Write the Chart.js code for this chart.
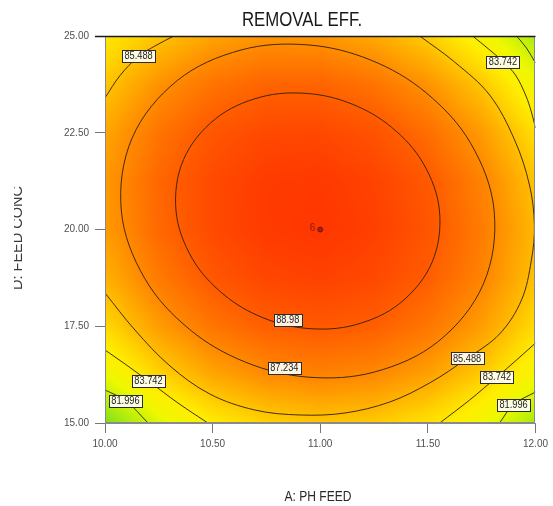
<!DOCTYPE html>
<html>
<head>
<meta charset="utf-8">
<title>REMOVAL EFF.</title>
<script src="https://cdn.jsdelivr.net/npm/chart.js@4.4.1/dist/chart.umd.min.js"></script>
<style>
  html, body { margin: 0; padding: 0; background: #ffffff; }
  canvas { display: block; }
</style>
</head>
<body>
<canvas id="chart" width="553" height="506"></canvas>
<script>
// ---- Response surface: removal efficiency over pH feed (A) and feed conc (D) ----
const phFeed   = [10.00, 10.25, 10.50, 10.75, 11.00, 11.25, 11.50, 11.75, 12.00];
const feedConc = [15.00, 16.25, 17.50, 18.75, 20.00, 21.25, 22.50, 23.75, 25.00];
// rows follow feedConc (bottom to top), columns follow phFeed (left to right)
const removalEff = [
  [80.06, 82.21, 83.77, 84.75, 85.16, 84.97, 84.21, 82.86, 80.93],
  [82.56, 84.65, 86.16, 87.08, 87.43, 87.19, 86.37, 84.96, 82.97],
  [84.47, 86.50, 87.95, 88.82, 89.11, 88.81, 87.93, 86.47, 84.42],
  [85.78, 87.76, 89.15, 89.96, 90.19, 89.84, 88.90, 87.38, 85.28],
  [86.50, 88.42, 89.76, 90.51, 90.68, 90.27, 89.27, 87.70, 85.54],
  [86.63, 88.49, 89.77, 90.47, 90.58, 90.11, 89.06, 87.42, 85.21],
  [86.16, 87.97, 89.19, 89.83, 89.88, 89.36, 88.25, 86.56, 84.28],
  [85.10, 86.85, 88.02, 88.60, 88.60, 88.01, 86.85, 85.10, 82.76],
  [83.90, 85.14, 86.25, 86.77, 86.71, 86.07, 84.85, 83.04, 81.00]
];

const contourLevels = [81.996, 83.742, 85.488, 87.234, 88.98];
const xTicks = [10.00, 10.50, 11.00, 11.50, 12.00];
const yTicks = [15.00, 17.50, 20.00, 22.50, 25.00];

// contour paths as [pH feed, feed conc] pairs; the two inner ones are closed rings
const path_88_98 = [
  [11.554, 20.478], [11.519, 19.147], [11.370, 18.093], [11.161, 17.535],
  [10.942, 17.442], [10.736, 17.716], [10.553, 18.313], [10.406, 19.243],
  [10.330, 20.478], [10.365, 21.809], [10.514, 22.863], [10.723, 23.421],
  [10.942, 23.514], [11.148, 23.240], [11.331, 22.643], [11.478, 21.713]
];
const path_87_234 = [
  [11.808, 20.478], [11.758, 18.594], [11.548, 17.106], [11.252, 16.318],
  [10.942, 16.186], [10.652, 16.574], [10.393, 17.419], [10.185, 18.731],
  [10.076, 20.478], [10.126, 22.362], [10.336, 23.850], [10.632, 24.638],
  [10.942, 24.770], [11.233, 24.382], [11.491, 23.537], [11.699, 22.225]
];
const path_85_488_corner = [
  [10.320, 25.000], [10.232, 24.742], [10.155, 24.470], [10.070, 23.980], [10.000, 23.400]
];
const path_85_488_arc = [
  [11.462, 25.000], [11.624, 24.328], [11.787, 23.475], [11.903, 22.313],
  [11.972, 21.150], [11.995, 20.116], [11.981, 19.212], [11.935, 18.178],
  [11.833, 17.300], [11.682, 16.667], [11.508, 16.034], [11.323, 15.543],
  [11.114, 15.258], [10.905, 15.207], [10.696, 15.336], [10.487, 15.749],
  [10.302, 16.473], [10.139, 17.403], [10.000, 18.359]
];
const path_83_742_top = [
  [11.708, 25.000], [11.782, 24.664], [11.849, 24.341], [11.907, 23.992],
  [11.954, 23.475], [11.981, 23.036], [12.000, 22.623]
];
const path_83_742_right = [
  [12.000, 17.067], [11.912, 16.628], [11.821, 16.189], [11.694, 15.594], [11.555, 15.000]
];
const path_83_742_left = [
  [10.000, 16.886], [10.093, 16.525], [10.202, 16.085], [10.339, 15.517], [10.478, 15.000]
];
const path_81_996_top = [
  [11.912, 25.000], [11.958, 24.690], [12.000, 24.302]
];
const path_81_996_right = [
  [12.000, 15.801], [11.898, 15.478], [11.833, 15.000]
];
const path_81_996_left = [
  [10.000, 15.853], [10.095, 15.581], [10.200, 15.000]
];
const closedPaths = [path_88_98, path_87_234];
const openPaths = [
  path_85_488_corner, path_85_488_arc,
  path_83_742_top, path_83_742_right, path_83_742_left,
  path_81_996_top, path_81_996_right, path_81_996_left
];

// contour value labels
const labelPh    = [10.156, 11.849, 10.849, 10.833, 11.682, 11.821, 11.898, 10.202, 10.095];
const labelConc  = [24.496, 24.341, 17.661, 16.421, 16.667, 16.189, 15.478, 16.085, 15.581];
const labelLevel = [2, 1, 4, 3, 2, 1, 0, 1, 0];

// design point (centre run) and its replicate count
const designPh = [11.00];
const designConc = [20.00];
const designCount = ['6'];

// ---- styling ----
const FONT = "'Liberation Sans', Arial, sans-serif";
const colorStops = [
  [78.0, [90, 205, 40]],
  [80.0, [125, 222, 30]],
  [81.5, [190, 240, 10]],
  [82.6, [238, 248, 0]],
  [83.7, [255, 238, 0]],
  [84.6, [255, 214, 0]],
  [85.5, [255, 186, 0]],
  [87.2, [255, 136, 0]],
  [89.0, [255, 90, 0]],
  [90.7, [255, 54, 0]],
  [92.5, [255, 20, 0]]
];

function colorFor(v) {
  if (v <= colorStops[0][0]) return colorStops[0][1];
  for (let i = 1; i < colorStops.length; i++) {
    const [v1, c1] = colorStops[i];
    if (v <= v1) {
      const [v0, c0] = colorStops[i - 1];
      const t = (v - v0) / (v1 - v0);
      return [0, 1, 2].map(k => c0[k] + (c1[k] - c0[k]) * t);
    }
  }
  return colorStops[colorStops.length - 1][1];
}

function cellIndex(arr, v) {
  let i = 0;
  while (i < arr.length - 2 && v > arr[i + 1]) i++;
  return i;
}

function surfaceAt(a, d) {
  const i = cellIndex(phFeed, a), j = cellIndex(feedConc, d);
  const tx = Math.min(1, Math.max(0, (a - phFeed[i]) / (phFeed[i + 1] - phFeed[i])));
  const ty = Math.min(1, Math.max(0, (d - feedConc[j]) / (feedConc[j + 1] - feedConc[j])));
  const v00 = removalEff[j][i], v10 = removalEff[j][i + 1];
  const v01 = removalEff[j + 1][i], v11 = removalEff[j + 1][i + 1];
  return (v00 * (1 - tx) + v10 * tx) * (1 - ty) + (v01 * (1 - tx) + v11 * tx) * ty;
}

// draws text squeezed horizontally, like a narrow face
function narrowText(ctx, txt, x, y, squeeze) {
  ctx.save();
  ctx.translate(x, y);
  ctx.scale(squeeze, 1);
  ctx.fillText(txt, 0, 0);
  ctx.restore();
}

// shaded response surface behind the contour lines
const surfacePlugin = {
  id: 'surface',
  afterDatasetUpdate(chart, args) {
    // closed contours are drawn as smooth rings
    const ds = chart.data.datasets[args.index];
    if (ds.closedRing) {
      const line = chart.getDatasetMeta(args.index).dataset;
      line._loop = true;
      line._fullLoop = true;
    }
  },
  beforeDatasetsDraw(chart) {
    const { ctx, chartArea, scales } = chart;
    const left = Math.round(chartArea.left), top = Math.round(chartArea.top);
    const w = Math.round(chartArea.right) - left, h = Math.round(chartArea.bottom) - top;
    const img = ctx.createImageData(w, h);
    for (let py = 0; py < h; py++) {
      const d = scales.y.getValueForPixel(top + py + 0.5);
      for (let px = 0; px < w; px++) {
        const a = scales.x.getValueForPixel(left + px + 0.5);
        const c = colorFor(surfaceAt(a, d));
        const o = (py * w + px) * 4;
        img.data[o] = c[0]; img.data[o + 1] = c[1]; img.data[o + 2] = c[2]; img.data[o + 3] = 255;
      }
    }
    ctx.putImageData(img, left, top);
  }
};

// contour value boxes, design point count, frame and titles
const annotatePlugin = {
  id: 'annotate',
  afterDatasetsDraw(chart) {
    const { ctx, scales } = chart;
    ctx.save();
    ctx.font = "10.5px " + FONT;
    ctx.textAlign = 'center';
    ctx.textBaseline = 'middle';
    for (let k = 0; k < labelPh.length; k++) {
      const px = scales.x.getPixelForValue(labelPh[k]);
      const py = scales.y.getPixelForValue(labelConc[k]);
      const txt = String(contourLevels[labelLevel[k]]);
      const tw = ctx.measureText(txt).width * 0.88;
      const bw = Math.round(tw + 5), bh = 12;
      const bx = Math.round(px - bw / 2) + 0.5, by = Math.round(py - bh / 2) + 0.5;
      ctx.fillStyle = 'rgba(255,255,245,0.92)';
      ctx.fillRect(bx, by, bw, bh);
      ctx.strokeStyle = '#2a2a2a';
      ctx.lineWidth = 1;
      ctx.strokeRect(bx, by, bw, bh);
      ctx.fillStyle = '#222222';
      narrowText(ctx, txt, px, py + 0.5, 0.88);
    }
    ctx.font = "10px " + FONT;
    ctx.fillStyle = '#8a1a14';
    ctx.textAlign = 'right';
    for (let k = 0; k < designPh.length; k++) {
      const px = scales.x.getPixelForValue(designPh[k]);
      const py = scales.y.getPixelForValue(designConc[k]);
      ctx.fillText(designCount[k], px - 5, py - 1);
    }
    ctx.restore();
  },
  afterDraw(chart) {
    const { ctx, chartArea } = chart;
    ctx.save();
    // plot frame
    ctx.strokeStyle = '#8a8a8a';
    ctx.lineWidth = 1;
    ctx.strokeRect(Math.round(chartArea.left) + 0.5, Math.round(chartArea.top) + 0.5,
      Math.round(chartArea.right - chartArea.left) - 1, Math.round(chartArea.bottom - chartArea.top) - 1);
    ctx.strokeStyle = '#1a1a1a';
    ctx.lineWidth = 1.5;
    ctx.beginPath();
    ctx.moveTo(chartArea.left - 10, chartArea.top + 0.5);
    ctx.lineTo(chartArea.right, chartArea.top + 0.5);
    ctx.stroke();
    // chart title
    ctx.fillStyle = '#1a1a1a';
    ctx.textAlign = 'center';
    ctx.textBaseline = 'middle';
    ctx.font = "21px " + FONT;
    narrowText(ctx, 'REMOVAL EFF.', 302, 20, 0.8);
    // x axis title
    ctx.fillStyle = '#2a2a2a';
    ctx.font = "14px " + FONT;
    narrowText(ctx, 'A: PH FEED', 318, 497, 0.86);
    // y axis title
    ctx.fillStyle = '#3a3a3a';
    ctx.beginPath();
    ctx.rect(14, 150, 40, 200);
    ctx.clip();
    ctx.translate(22, 238);
    ctx.rotate(-Math.PI / 2);
    ctx.textBaseline = 'alphabetic';
    ctx.font = "14.5px " + FONT;
    ctx.fillText('D: FEED CONC', 0, 0);
    ctx.restore();
  }
};

const lineStyle = {
  type: 'scatter',
  showLine: true,
  borderColor: 'rgba(45,30,15,0.9)',
  borderWidth: 1,
  pointRadius: 0,
  tension: 0.35,
  fill: false
};
const ringDatasets = closedPaths.map(p => Object.assign({}, lineStyle, {
  closedRing: true,
  data: p.map(([a, d]) => ({ x: a, y: d }))
}));
const arcDatasets = openPaths.map(p => Object.assign({}, lineStyle, {
  data: p.map(([a, d]) => ({ x: a, y: d }))
}));

const pointDataset = {
  type: 'scatter',
  data: designPh.map((a, k) => ({ x: a, y: designConc[k] })),
  pointRadius: 2.5,
  pointBackgroundColor: '#a3201a',
  pointBorderColor: '#7a1410',
  pointBorderWidth: 1,
  showLine: false
};

new Chart(document.getElementById('chart'), {
  type: 'scatter',
  data: { datasets: [...ringDatasets, ...arcDatasets, pointDataset] },
  plugins: [surfacePlugin, annotatePlugin],
  options: {
    responsive: false,
    devicePixelRatio: 1,
    animation: false,
    events: [],
    layout: { padding: { top: 36, right: 17, left: 0, bottom: 0 } },
    plugins: { legend: { display: false }, title: { display: false }, tooltip: { enabled: false } },
    scales: {
      x: {
        type: 'linear', min: 10, max: 12,
        afterFit(s) { s.height = 83; },
        afterBuildTicks(s) { s.ticks = xTicks.map(v => ({ value: v })); },
        grid: { drawOnChartArea: false, tickLength: 10, color: '#777777' },
        border: { display: true, color: '#8a8a8a' },
        ticks: {
          padding: 5, color: '#505050', maxRotation: 0,
          font: { family: FONT, size: 10 },
          callback: v => Number(v).toFixed(2)
        }
      },
      y: {
        type: 'linear', min: 15, max: 25,
        afterFit(s) { s.width = 105; },
        afterBuildTicks(s) { s.ticks = yTicks.map(v => ({ value: v })); },
        grid: { drawOnChartArea: false, tickLength: 10, color: '#777777' },
        border: { display: true, color: '#8a8a8a' },
        ticks: {
          padding: 6, color: '#505050',
          font: { family: FONT, size: 10 },
          callback: v => Number(v).toFixed(2)
        }
      }
    }
  }
});
</script>
</body>
</html>
